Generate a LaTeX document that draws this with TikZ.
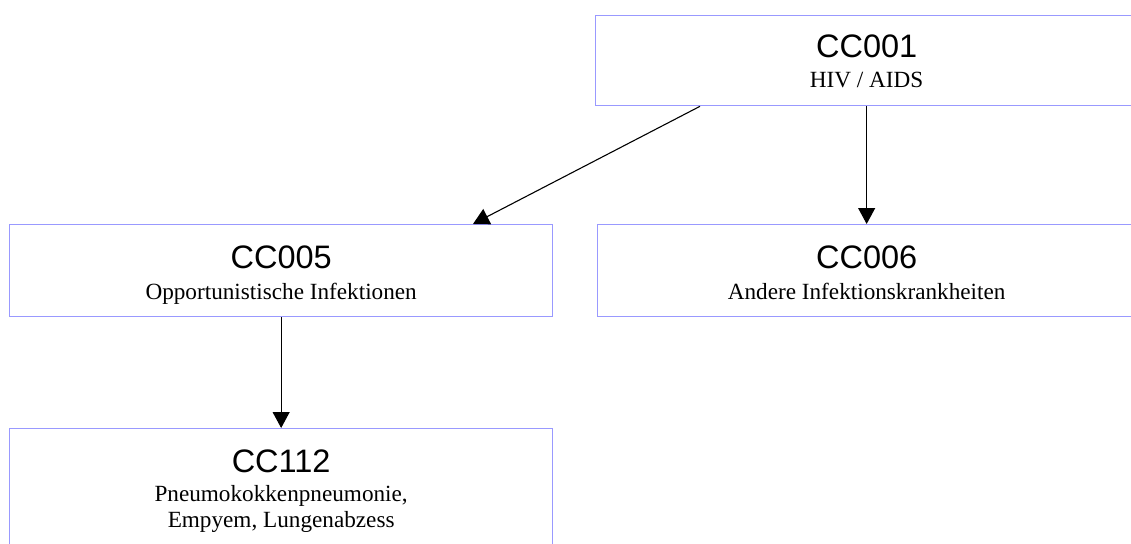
\documentclass[tikz,border=0pt]{standalone}
\usepackage{fontspec}
\setmainfont{Liberation Serif}
\newfontfamily\arialf{Liberation Sans}
\usetikzlibrary{arrows.meta,calc}
\definecolor{boxline}{RGB}{153,153,255}
\tikzset{
  ccbox/.style={draw=boxline, line width=1.3pt, rectangle, anchor=north west, inner sep=0pt, fill=white},
  cctitle/.style={anchor=base, inner sep=0pt, font=\arialf\fontsize{32.5}{36}\selectfont},
  ccsub/.style={anchor=base, inner sep=0pt, font=\fontsize{23.2}{26}\selectfont, align=center},
  conn/.style={line width=1.1pt, -{Triangle[width=17pt,length=16pt]}}
}
\begin{document}
\begin{tikzpicture}[x=1pt,y=-1pt]
\useasboundingbox (0,0) rectangle (1131,543);
% boxes
\node[ccbox, minimum width=542pt, minimum height=90pt] (c001) at (595,15) {};
\node[ccbox, minimum width=543pt, minimum height=92pt] (c005) at (9,224) {};
\node[ccbox, minimum width=538pt, minimum height=92pt] (c006) at (597,224) {};
\node[ccbox, minimum width=543pt, minimum height=130pt] (c112) at (9,428) {};
% texts
\node[cctitle] (t001) at ($(c001.north)+(0,43)$) {CC001};
\node[ccsub] (s001) at ($(c001.north)+(0,72)$) {HIV / AIDS};
\node[cctitle] (t005) at ($(c005.north)+(0,44)$) {CC005};
\node[ccsub] (s005) at ($(c005.north)+(0,75)$) {Opportunistische Infektionen};
\node[cctitle] (t006) at ($(c006.north)+(0,44)$) {CC006};
\node[ccsub] (s006) at ($(c006.north)+(0,75)$) {Andere Infektionskrankheiten};
\node[cctitle] (t112) at ($(c112.north)+(0,44)$) {CC112};
\node[ccsub] (s112a) at ($(c112.north)+(0,73)$) {Pneumokokkenpneumonie,};
\node[ccsub] (s112b) at ($(c112.north)+(0,99)$) {Empyem, Lungenabzess};
% connectors
\draw[conn] ($(c001.south west)+(105,0)$) -- ($(c005.north west)+(464,0)$);
\draw[conn] (c001.south) -- (c006.north);
\draw[conn] (c005.south) -- (c112.north);
\end{tikzpicture}
\end{document}
